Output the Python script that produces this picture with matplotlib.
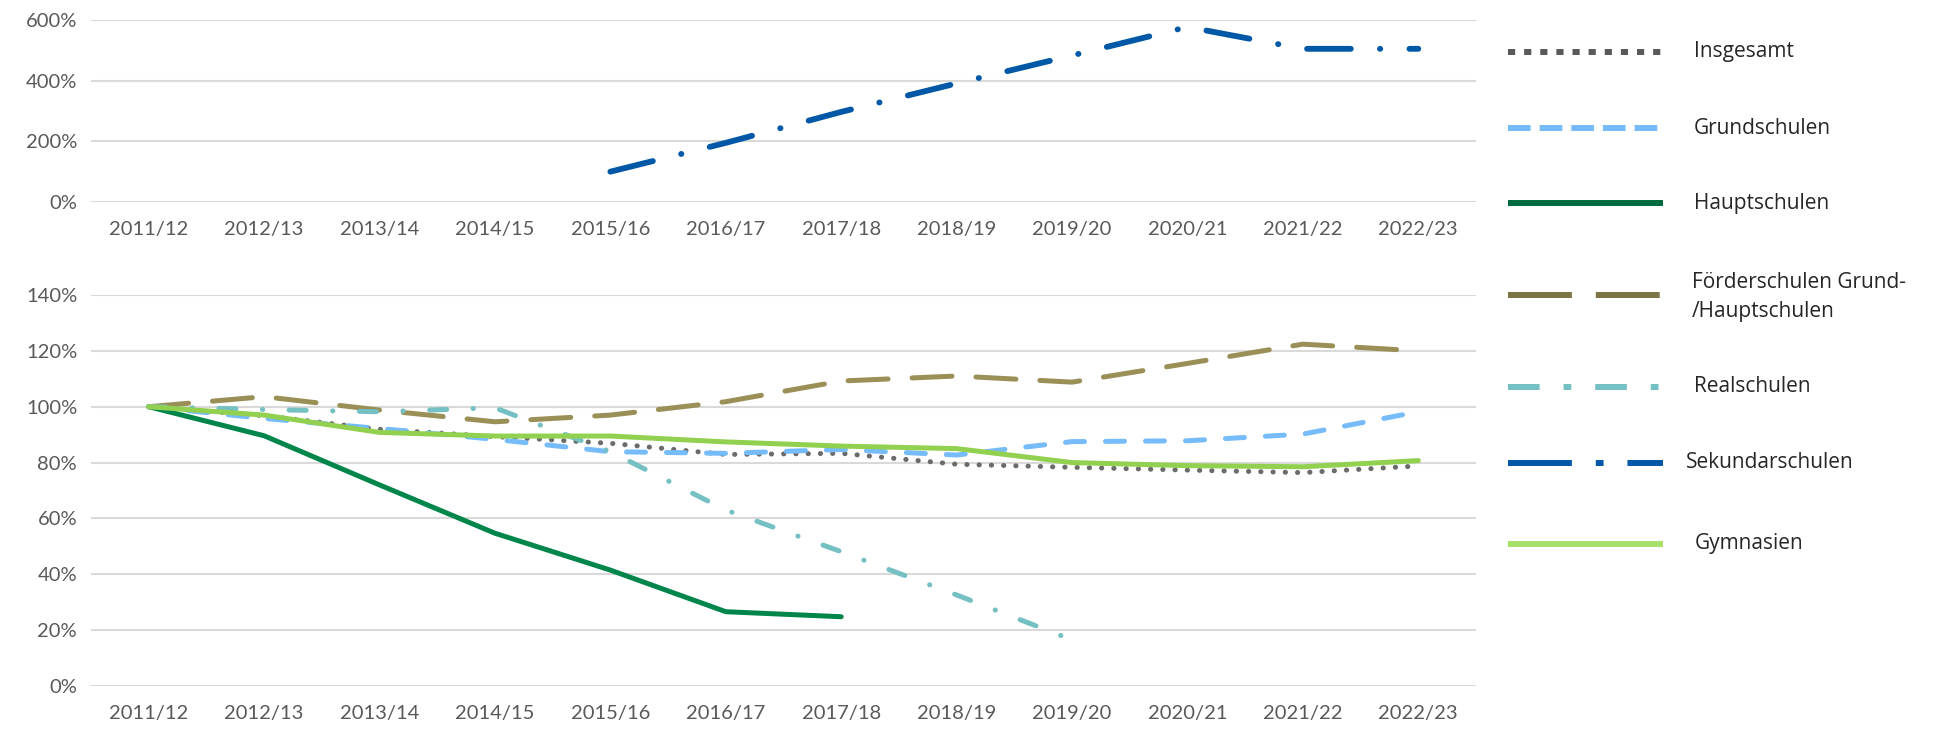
import numpy as np
import matplotlib
matplotlib.use("Agg")
import matplotlib.pyplot as plt
from matplotlib.ticker import PercentFormatter, MultipleLocator
from matplotlib.lines import Line2D

plt.rcParams['font.family'] = ['Lato', 'DejaVu Sans']

# Schuljahre
jahre = ['2011/12', '2012/13', '2013/14', '2014/15', '2015/16', '2016/17',
         '2017/18', '2018/19', '2019/20', '2020/21', '2021/22', '2022/23']

# Schülerzahlen relativ zum Startjahr (in %)
insgesamt = [100, 96.8, 91.9, 89.3, 86.9, 82.9, 83.3, 79.4, 78.3, 77.3, 76.4, 78.8]
grundschulen = [100, 95.8, 92.2, 88.3, 83.9, 83.3, 84.7, 82.7, 87.5, 87.8, 90.2, 98.2]
hauptschulen = [100, 89.6, 72.0, 54.7, 41.5, 26.6, 24.8, np.nan, np.nan, np.nan, np.nan, np.nan]
foerderschulen = [100, 103.6, 98.8, 94.6, 97.0, 101.8, 109.2, 111.0, 108.8, 115.5, 122.4, 120.0]
realschulen = [100, 99.0, 98.2, 99.6, 83.9, 63.0, 48.1, 32.6, 16.5, np.nan, np.nan, np.nan]
sekundarschulen = [np.nan, np.nan, np.nan, np.nan, 100, 195, 297, 391, 483, 577, 505, 505]
gymnasien = [100, 97.0, 90.8, 89.5, 89.5, 87.4, 85.9, 85.0, 80.0, 78.9, 78.5, 80.7]

namen = ['Insgesamt', 'Grundschulen', 'Hauptschulen',
         'Förderschulen Grund-\n/Hauptschulen', 'Realschulen',
         'Sekundarschulen', 'Gymnasien']

farben = {
    'ins': '#6b6b6b', 'grund': '#76bcfa', 'haupt': '#00864b',
    'foer': '#9a8f57', 'real': '#74c0c3', 'sek': '#0058a6', 'gym': '#92d050',
}

W, H = 1953, 732
fig = plt.figure(figsize=(W / 100, H / 100), dpi=100)

def px_axes(x0, y0, x1, y1):
    # pixel box (top-left origin) -> figure axes
    return fig.add_axes([x0 / W, 1 - y1 / H, (x1 - x0) / W, (y1 - y0) / H])

ax_top = px_axes(91, 20, 1476, 202)
ax_bot = px_axes(91, 295, 1476, 686)

x = np.arange(len(jahre))
lw = 3.6

def style_ax(ax, ymax, step):
    ax.set_xlim(-0.5, len(jahre) - 0.5)
    ax.set_ylim(0, ymax)
    ax.yaxis.set_major_locator(MultipleLocator(step))
    ax.yaxis.set_major_formatter(PercentFormatter(decimals=0))
    ax.set_xticks(x)
    ax.set_xticklabels(jahre)
    for s in ax.spines.values():
        s.set_visible(False)
    ax.grid(axis='y', color='#d9d9d9', lw=1.5, zorder=0)
    ax.set_axisbelow(True)
    ax.tick_params(length=0, labelsize=14.5, labelcolor='#595959', pad=10)
    ax.tick_params(axis='x', pad=14)
    for lab in ax.get_yticklabels():
        lab.set_horizontalalignment('right')

style_ax(ax_top, 600, 200)
style_ax(ax_bot, 140, 20)

# oberes Diagramm: Sekundarschulen
ax_top.plot(x, sekundarschulen, color=farben['sek'], lw=lw + 0.6,
            dashes=(7.5, 5, 0.05, 5), dash_capstyle='round', clip_on=False)

# unteres Diagramm
ax_bot.plot(x, insgesamt, color=farben['ins'], lw=lw, dashes=(0.05, 2.4),
            dash_capstyle='round', zorder=2)
ax_bot.plot(x, grundschulen, color=farben['grund'], lw=lw, dashes=(3.8, 4.2),
            dash_capstyle='round', zorder=3)
ax_bot.plot(x, hauptschulen, color=farben['haupt'], lw=lw,
            solid_capstyle='round', zorder=4)
ax_bot.plot(x, foerderschulen, color=farben['foer'], lw=lw, dashes=(8, 4.8),
            dash_capstyle='round', zorder=5)
ax_bot.plot(x, realschulen, color=farben['real'], lw=lw, dashes=(3.4, 5.3, 0.05, 5.3),
            dash_capstyle='round', zorder=6)
ax_bot.plot(x, gymnasien, color=farben['gym'], lw=lw,
            solid_capstyle='round', zorder=7)

# Legende rechts (eigene Achse in Pixelkoordinaten)
leg = fig.add_axes([0, 0, 1, 1])
leg.set_xlim(0, W)
leg.set_ylim(H, 0)
leg.axis('off')

leg_stil = [
    ('#595959', (1.2, 1.5)),
    ('#76bcfa', (3.8, 1.5)),
    ('#006b40', None),
    ('#7d7446', (10.7, 4)),
    ('#74c0c3', (5.3, 4, 1.3, 4)),
    ('#0058a6', (10.7, 4, 1.3, 4)),
    ('#a8e06c', None),
]
zeilen_y = [52, 128, 203, 295, 387, 463, 544]
text_y = [52, 128, 203, 297, 387, 463, 544]
text_x = [1694, 1694, 1694, 1692, 1694, 1686, 1695]

for name, (col, d), yl, yt, xt in zip(namen, leg_stil, zeilen_y, text_y, text_x):
    ln = Line2D([1508, 1663], [yl, yl], color=col, lw=4.3, solid_capstyle='butt',
                dash_capstyle='butt')
    if d is not None:
        ln.set_dashes(d)
    leg.add_line(ln)
    leg.text(xt, yt, name, fontsize=15, color='#262626', va='center', ha='left',
             family=['Open Sans', 'DejaVu Sans'], linespacing=1.45)

fig.savefig('out.png', dpi=100)
